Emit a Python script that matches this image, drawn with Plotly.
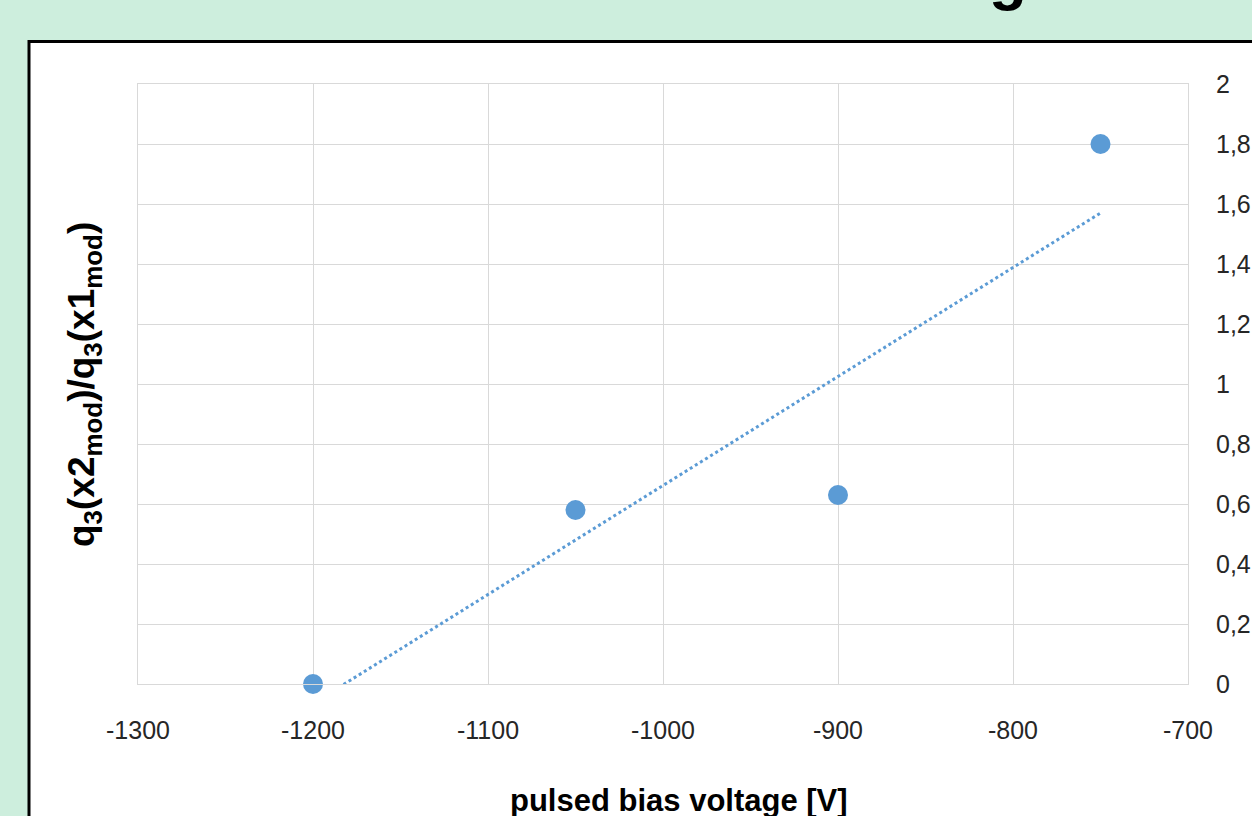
import numpy as np
import plotly.graph_objects as go

# data
voltage = [-1200, -1050, -900, -750]
ratio = [0.0, 0.58, 0.63, 1.80]
x_ticks = [-1300, -1200, -1100, -1000, -900, -800, -700]
y_ticks = [0, 0.2, 0.4, 0.6, 0.8, 1.0, 1.2, 1.4, 1.6, 1.8, 2.0]
y_tick_labels = ["0", "0,2", "0,4", "0,6", "0,8", "1", "1,2", "1,4", "1,6", "1,8", "2"]

W, H = 1252, 816
BLUE = "#5b9bd5"
GRID = "#d9d9d9"
TICKFONT = dict(family="Liberation Sans Narrow, Arial Narrow, Arial", size=25, color="#262626")

slope, intercept = np.polyfit(voltage, ratio, 1)
trend_x = [min(voltage), max(voltage)]
trend_y = [slope * v + intercept for v in trend_x]

fig = go.Figure()
fig.add_trace(go.Scatter(x=trend_x, y=trend_y, mode="lines",
                         line=dict(color=BLUE, width=3, dash="dot"),
                         hoverinfo="skip", showlegend=False))
fig.add_trace(go.Scatter(x=voltage, y=ratio, mode="markers",
                         marker=dict(color=BLUE, size=20, line=dict(width=0)),
                         cliponaxis=False, showlegend=False))

x0, x1 = 138 / W, 1188 / W
y0, y1 = 1 - 684 / H, 1 - 84 / H

fig.update_layout(
    width=W, height=H,
    margin=dict(l=0, r=0, t=0, b=0, autoexpand=False),
    paper_bgcolor="#cdeedd",
    plot_bgcolor="rgba(0,0,0,0)",
    xaxis=dict(domain=[x0, x1], range=[-1300, -700], tickvals=x_ticks,
               ticktext=[str(v) for v in x_ticks], automargin=False,
               showgrid=True, gridcolor=GRID, gridwidth=1, zeroline=False,
               showline=True, linecolor=GRID, linewidth=1, mirror=True,
               ticks="", tickfont=TICKFONT, ticklabelstandoff=24),
    yaxis=dict(domain=[y0, y1], range=[0, 2], side="right", automargin=False,
               tickvals=y_ticks, ticktext=y_tick_labels,
               showgrid=True, gridcolor=GRID, gridwidth=1, zeroline=False,
               showline=True, linecolor=GRID, linewidth=1, mirror=True,
               ticks="", tickfont=TICKFONT, ticklabelstandoff=22),
    shapes=[dict(type="rect", xref="paper", yref="paper", layer="below",
                 x0=29 / W, x1=1.05, y0=-0.05, y1=1 - 41.5 / H,
                 fillcolor="white", line=dict(color="black", width=3))],
    annotations=[
        dict(text="q<sub>3</sub>(x2<sub>mod</sub>)/q<sub>3</sub>(x1<sub>mod</sub>)",
             xref="paper", yref="paper", x=84 / W, y=1 - 385 / H,
             textangle=-90, showarrow=False, xanchor="center", yanchor="middle",
             font=dict(family="Liberation Sans, Arial", size=37, color="black", weight="bold")),
        dict(text="pulsed bias voltage [V]", xref="paper", yref="paper",
             x=679 / W, y=1 - 800 / H, showarrow=False, xanchor="center", yanchor="middle",
             font=dict(family="Liberation Sans Narrow, Arial Narrow, Arial", size=31,
                       color="black", weight="bold")),
        dict(text="g", xref="paper", yref="paper", x=1008 / W, y=1 + 24 / H,
             showarrow=False, xanchor="center", yanchor="middle",
             font=dict(family="Liberation Sans, Arial", size=62, color="black", weight="bold")),
    ],
)

fig.write_html("out.html", config={"displayModeBar": False},
               post_script="document.body.style.margin='0';document.body.style.overflow='hidden';")
